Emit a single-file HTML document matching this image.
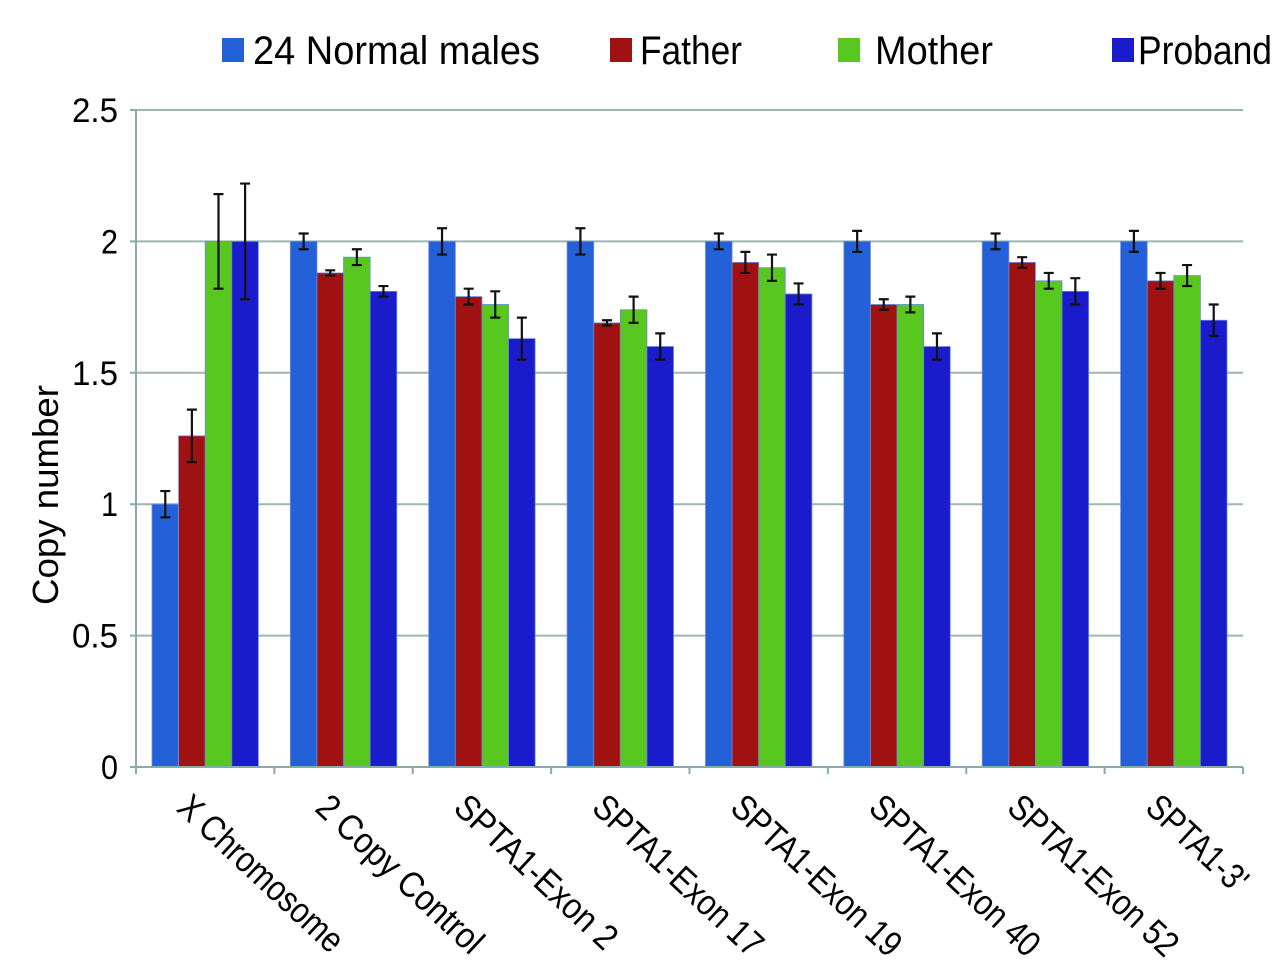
<!DOCTYPE html>
<html><head><meta charset="utf-8"><style>
html,body{margin:0;padding:0;background:#fff}
svg{display:block;font-family:"Liberation Sans",sans-serif}
</style></head><body>
<svg id="chart" width="1280" height="972" viewBox="0 0 1280 972">
<g id="grid"></g>
<g id="bars"></g>
<g id="axes"></g>
<g id="legend"></g>
<text transform="translate(58,495) rotate(-90)" text-anchor="middle" font-size="36" textLength="220" lengthAdjust="spacingAndGlyphs">Copy number</text>
</svg>
<script>
const categories = ["X Chromosome","2 Copy Control","SPTA1-Exon 2","SPTA1-Exon 17","SPTA1-Exon 19","SPTA1-Exon 40","SPTA1-Exon 52","SPTA1-3'"];
const seriesNames = ["24 Normal males","Father","Mother","Proband"];
const normalMales = [1.00,2.00,2.00,2.00,2.00,2.00,2.00,2.00];
const father      = [1.26,1.88,1.79,1.69,1.92,1.76,1.92,1.85];
const mother      = [2.00,1.94,1.76,1.74,1.90,1.76,1.85,1.87];
const proband     = [2.00,1.81,1.63,1.60,1.80,1.60,1.81,1.70];
const errNormal   = [0.05,0.03,0.05,0.05,0.03,0.04,0.03,0.04];
const errFather   = [0.10,0.01,0.03,0.01,0.04,0.02,0.02,0.03];
const errMother   = [0.18,0.03,0.05,0.05,0.05,0.03,0.03,0.04];
const errProband  = [0.22,0.02,0.08,0.05,0.04,0.05,0.05,0.06];
const yTicks = [0,0.5,1,1.5,2,2.5];
const yTickLabels = ["0","0.5","1","1.5","2","2.5"];

const labelLen = [212,214,208,218,218,218,218,124];
const colors = ["#2460d8","#a01212","#58c820","#1a1ccc"];
const series = [normalMales,father,mother,proband];
const errs = [errNormal,errFather,errMother,errProband];
const X0=136, X1=1243, Y0=767, Y1=110, YMAX=2.5;
const gw=(X1-X0)/categories.length, bw=26.6, pad=(gw-4*bw)/2;
const y=v=>Y0-(v/YMAX)*(Y0-Y1);
const gx=i=>X0+i*gw;
const NS="http://www.w3.org/2000/svg";
function mk(tag,attrs,parent){const e=document.createElementNS(NS,tag);for(const k in attrs)e.setAttribute(k,attrs[k]);parent.appendChild(e);return e;}
const grid=document.getElementById('grid'),bars=document.getElementById('bars'),axes=document.getElementById('axes'),legend=document.getElementById('legend');
yTicks.forEach((t,i)=>{
  if(t>0){const l=mk('line',{x1:X0,x2:X1,y1:y(t),y2:y(t),stroke:'#9fb4b4','stroke-width':2},grid);
  
  }
  const tk=mk('line',{x1:X0-6,x2:X0,y1:y(t),y2:y(t),stroke:'#8aa','stroke-width':2},axes);
  
  
  const tx=mk('text',{x:118,y:y(t)+12,'text-anchor':'end','font-size':34,textLength:yTickLabels[i].length>1?46:17,lengthAdjust:'spacingAndGlyphs'},axes);
  tx.textContent=yTickLabels[i];
  
  
});
const ya=mk('line',{x1:X0,x2:X0,y1:Y1,y2:Y0,stroke:'#8aa','stroke-width':2},axes);


const xa=mk('line',{x1:X0,x2:X1,y1:Y0,y2:Y0,stroke:'#8aa','stroke-width':2},axes);


for(let i=0;i<=categories.length;i++){
  const t=mk('line',{x1:gx(i),x2:gx(i),y1:Y0,y2:Y0+7,stroke:'#8aa','stroke-width':2},axes);
  
  
}
categories.forEach((c,i)=>{
  series.forEach((s,j)=>{
    const x=gx(i)+pad+j*bw;
    const r=mk('rect',{x:x,y:y(s[i]),width:bw,height:Y0-y(s[i]),fill:colors[j],stroke:'#6a8ad8','stroke-width':0.8},bars);
    
    
    const cx=x+bw/2, e=errs[j][i];
    const eb=mk('path',{d:`M${cx},${y(s[i]+e)}V${y(s[i]-e)}M${cx-5},${y(s[i]+e)}H${cx+5}M${cx-5},${y(s[i]-e)}H${cx+5}`,stroke:'#111','stroke-width':2.2,fill:'none'},bars);
    
    
  });
  const cx=gx(i)+gw/2;
  const lab=mk('text',{transform:`translate(${cx-30},${810}) rotate(43)`,'font-size':36,textLength:labelLen[i],lengthAdjust:'spacingAndGlyphs'},axes);
  lab.textContent=c;
  
  
});
const legPos=[[222,253,287],[610,640,102],[838,875,118],[1112,1138,134]];
seriesNames.forEach((n,j)=>{
  const [sx,tx,tl]=legPos[j];
  const sq=mk('rect',{x:sx,y:38,width:22,height:24,fill:colors[j]},legend);
  
  
  const t=mk('text',{x:tx,y:64,'font-size':40,textLength:tl,lengthAdjust:'spacingAndGlyphs'},legend);
  t.textContent=n;
  
  
});
</script>
</body></html>
